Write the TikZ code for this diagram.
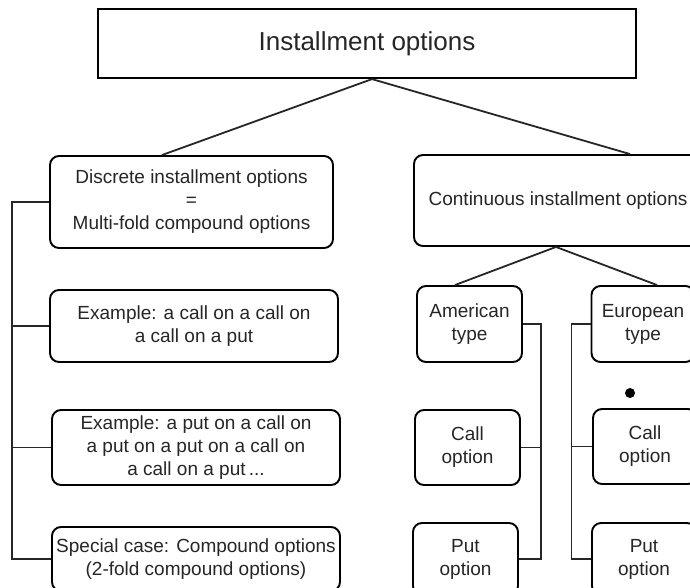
\documentclass[tikz,border=0pt]{standalone}
\usepackage{fontspec}
\setmainfont{Liberation Sans}
\begin{document}
\begin{tikzpicture}[x=1pt,y=-1pt,
  box/.style={draw=black,line width=1.9pt,rounded corners=9pt,align=center,
    font=\fontsize{19}{23}\selectfont,text=black!85,inner sep=0pt},
  conn/.style={draw=black!85,line width=1.8pt}]
\clip (0,0) rectangle (690,587);
\useasboundingbox (0,0) rectangle (690,587);
\fill[white] (0,0) rectangle (690,587);
% top
\node[draw=black,line width=2.2pt,minimum width=538pt,minimum height=69pt,inner sep=0pt,
  font=\fontsize{26}{30}\selectfont,text=black!85] (top) at (367,43.5) {Installment options};
% left column
\node[box,minimum width=283pt,minimum height=92pt] (disc) at (191.5,202)
  {Discrete installment options\\=\\Multi-fold compound options};
\node[box,minimum width=288pt,minimum height=72pt] (ex1) at (194,326)
  {Example: a call on a call on\\a call on a put};
\node[box,minimum width=288pt,minimum height=75pt] (ex2) at (196,447.5)
  {Example: a put on a call on\\a put on a put on a call on\\a call on a put\,...};
\node[box,minimum width=288pt,minimum height=64pt] (spec) at (196,559)
  {Special case: Compound options\\(2-fold compound options)};
% right column
\node[box,minimum width=288pt,minimum height=91pt] (cont) at (558,200.5)
  {Continuous installment options};
\node[box,minimum width=105pt,minimum height=76pt] (amer) at (469.5,324) {American\\type};
\node[box,minimum width=103pt,minimum height=76pt] (euro) at (643,324) {European\\type};
\node[box,minimum width=105pt,minimum height=75pt] (acall) at (467.5,447.5) {Call\\option};
\node[box,minimum width=105pt,minimum height=72pt] (aput) at (465.5,559) {Put\\option};
\node[box,minimum width=104pt,minimum height=75pt] (ecall) at (645,446.5) {Call\\option};
\node[box,minimum width=104pt,minimum height=72pt] (eput) at (644,559) {Put\\option};
% tree connectors
\draw[conn] ([xshift=5pt]top.south) -- ([xshift=-29.5pt]disc.north);
\draw[conn] ([xshift=5pt]top.south) -- ([xshift=72pt]cont.north);
\draw[conn] ([xshift=-2pt]cont.south) -- ([xshift=-14.5pt]amer.north);
\draw[conn] ([xshift=-2pt]cont.south) -- ([xshift=14pt]euro.north);
% left bracket
\draw[conn] (disc.west) -- ++(-37,0) coordinate (lb) |- (spec.west);
\draw[conn] (ex1.west) -- (ex1.west -| lb);
\draw[conn] (ex2.west) -- (ex2.west -| lb);
% american bracket
\draw[conn] (amer.east) -- ++(18,0) coordinate (ab) |- (aput.east);
\draw[conn] (acall.east) -- (acall.east -| ab);
% european bracket
\draw[conn] (euro.west) -- ++(-19,0) coordinate (eb) |- (eput.west);
\draw[conn] (ecall.west) -- (ecall.west -| eb);
% dot
\fill[black] (630,393) circle (5pt);
\end{tikzpicture}
\end{document}
